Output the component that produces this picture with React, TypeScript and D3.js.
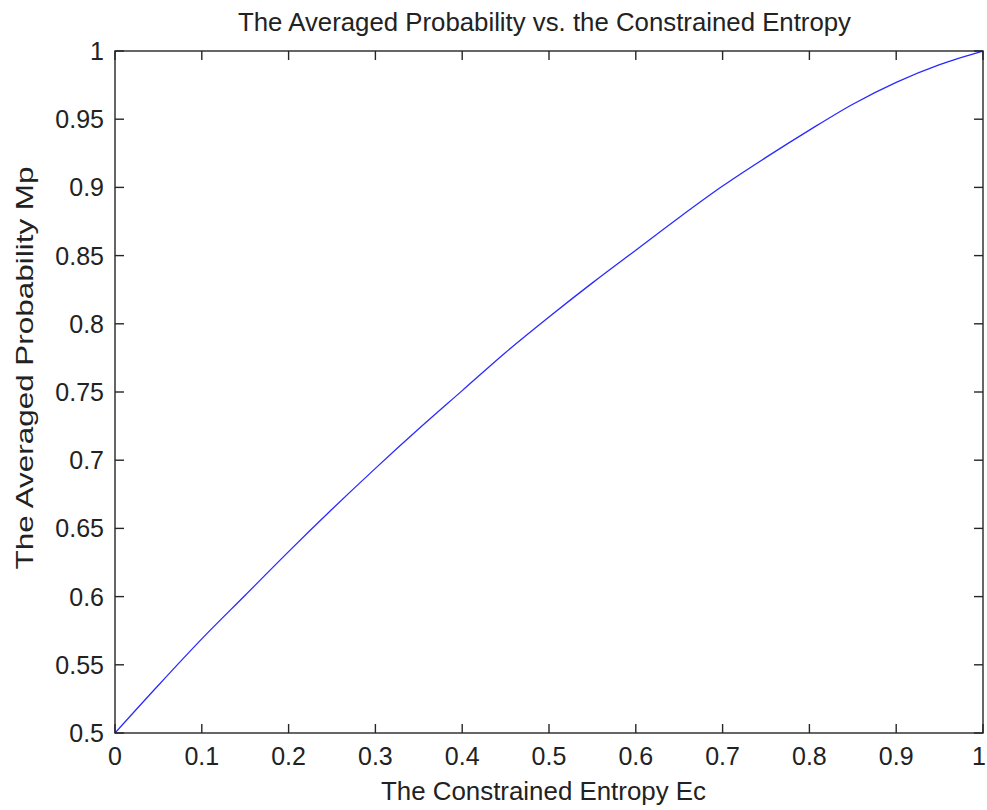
import React from 'react';
import * as d3 from 'd3';

// constrained entropy Ec (x) and averaged probability Mp (y)
const entropy = [0, 0.05, 0.1, 0.15, 0.2, 0.25, 0.3, 0.35, 0.4, 0.45, 0.5, 0.55, 0.6, 0.65, 0.7, 0.75, 0.8, 0.85, 0.9, 0.95, 1];
const avgProb = [0.5, 0.535, 0.569, 0.601, 0.633, 0.664, 0.694, 0.723, 0.751, 0.779, 0.805, 0.83, 0.854, 0.878, 0.901, 0.922, 0.942, 0.961, 0.977, 0.99, 1];

const xTicks = [0, 0.1, 0.2, 0.3, 0.4, 0.5, 0.6, 0.7, 0.8, 0.9, 1];
const yTicks = [0.5, 0.55, 0.6, 0.65, 0.7, 0.75, 0.8, 0.85, 0.9, 0.95, 1];

const W = 987;
const H = 810;
const margin = { top: 51, right: 4, bottom: 77, left: 115 };
const font = 'Liberation Sans, Arial, Helvetica, sans-serif';
const axisColor = '#262626';

const App = () => {
  const x = d3.scaleLinear().domain([0, 1]).range([margin.left, W - margin.right]);
  const y = d3.scaleLinear().domain([0.5, 1]).range([H - margin.bottom, margin.top]);

  const line = d3
    .line<number>()
    .x((d, i) => x(entropy[i]))
    .y(d => y(d))
    .curve(d3.curveMonotoneX);

  const x0 = x(0), x1 = x(1), y0 = y(0.5), y1 = y(1);
  const tick = 9;

  return (
    <svg width={W} height={H} style={{ position: 'absolute', left: 0, top: 0, background: '#fff' }}>
      <rect x={0} y={0} width={W} height={H} fill="#fff" />
      <path d={line(avgProb) || ''} fill="none" stroke="#2a2aff" strokeWidth={1.3} />

      {/* box */}
      <rect x={x0} y={y1} width={x1 - x0} height={y0 - y1} fill="none" stroke={axisColor} strokeWidth={1.4} />

      {xTicks.map(t => (
        <g key={'x' + t}>
          <line x1={x(t)} x2={x(t)} y1={y0} y2={y0 - tick} stroke={axisColor} strokeWidth={1.4} />
          <line x1={x(t)} x2={x(t)} y1={y1} y2={y1 + tick} stroke={axisColor} strokeWidth={1.4} />
          <text x={t === 1 ? W - 1 : x(t)} y={765} textAnchor={t === 1 ? 'end' : 'middle'}
            fontFamily={font} fontSize={25} fill="#222">
            {String(t)}
          </text>
        </g>
      ))}

      {yTicks.map(t => (
        <g key={'y' + t}>
          <line x1={x0} x2={x0 + tick} y1={y(t)} y2={y(t)} stroke={axisColor} strokeWidth={1.4} />
          <line x1={x1} x2={x1 - tick} y1={y(t)} y2={y(t)} stroke={axisColor} strokeWidth={1.4} />
          <text x={104} y={y(t) + 9} textAnchor="end" fontFamily={font} fontSize={25} fill="#222">
            {String(t)}
          </text>
        </g>
      ))}

      <text x={544.5} y={31} textAnchor="middle" fontFamily={font} fontSize={25} fill="#222"
        textLength={613} lengthAdjust="spacingAndGlyphs">
        The Averaged Probability vs. the Constrained Entropy
      </text>
      <text x={543.5} y={800} textAnchor="middle" fontFamily={font} fontSize={25} fill="#222"
        textLength={325} lengthAdjust="spacingAndGlyphs">
        The Constrained Entropy Ec
      </text>
      <text transform="translate(33,368) rotate(-90)" textAnchor="middle" fontFamily={font} fontSize={24} fill="#222"
        textLength={403} lengthAdjust="spacingAndGlyphs">
        The Averaged Probability Mp
      </text>
    </svg>
  );
};

export default App;
